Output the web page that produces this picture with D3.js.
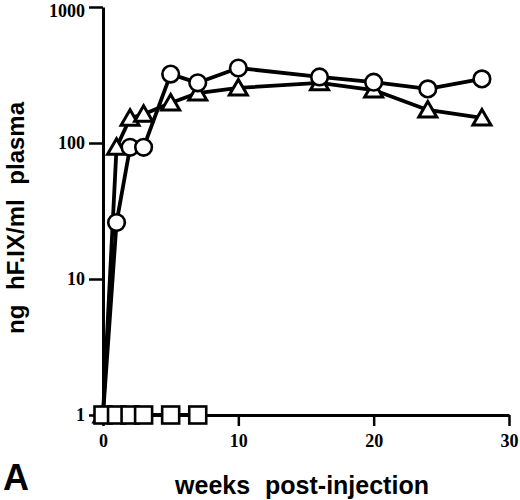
<!DOCTYPE html>
<html>
<head>
<meta charset="utf-8">
<script src="https://cdn.jsdelivr.net/npm/d3@7"></script>
<style>
  body { margin: 0; background: #fff; }
  svg { display: block; }
</style>
</head>
<body>
<script>
//============================================================
// Data (ng hF.IX/ml plasma vs weeks)
var circleWeeks = [0, 1, 2, 3, 5, 7, 10, 16, 20, 24, 28];
var circleVals  = [1, 26, 93, 93, 321, 277, 356, 306, 280, 250, 296];

var triWeeks = [0, 1, 2, 3, 5, 7, 10, 16, 20, 24, 28];
var triVals  = [1, 93, 152, 163, 197, 233, 254, 277, 245, 175, 153];

var squareWeeks = [0, 1, 2, 3, 5, 7];
var squareVals  = [1, 1, 1, 1, 1, 1];

var xTicks = [0, 10, 20, 30];
var yTicks = [1, 10, 100, 1000];

//============================================================
// Set up SVG
var svg = d3.select("body")
  .append("svg")
  .attr("width", 520)
  .attr("height", 500);

var x = d3.scaleLinear().domain([0, 30]).range([103, 509]);
var y = d3.scaleLog().domain([1, 1000]).range([415, 7]);

function pts(ws, vs) {
  return ws.map(function (w, i) { return [w, vs[i]]; });
}

//============================================================
// Axes
var yAxis = svg.append("g")
  .attr("transform", "translate(103,0)")
  .call(d3.axisLeft(y).tickValues(yTicks).tickFormat(d3.format("d"))
    .tickSize(14).tickSizeOuter(0).tickPadding(4));

var xAxis = svg.append("g")
  .attr("transform", "translate(0,415)")
  .call(d3.axisBottom(x).tickValues(xTicks).tickFormat(d3.format("d"))
    .tickSize(11).tickSizeOuter(0).tickPadding(8));

[xAxis, yAxis].forEach(function (g) {
  g.select(".domain").attr("stroke", "#000").attr("stroke-width", 3);
  g.selectAll(".tick line").attr("stroke", "#000").attr("stroke-width", 2.5);
  g.selectAll(".tick text")
    .attr("fill", "#000")
    .style("font-family", "'Liberation Serif', 'Times New Roman', serif")
    .style("font-weight", "bold")
    .style("font-size", "18px");
});
// keep the top label inside the picture
yAxis.selectAll(".tick text").filter(function (d) { return d === 1000; })
  .attr("dy", "0.5em");

//============================================================
// Lines
var line = d3.line()
  .x(function (d) { return x(d[0]); })
  .y(function (d) { return y(d[1]); });

[pts(triWeeks, triVals), pts(circleWeeks, circleVals), pts(squareWeeks, squareVals)]
  .forEach(function (data) {
    svg.append("path")
      .datum(data)
      .attr("d", line)
      .attr("fill", "none")
      .attr("stroke", "#000")
      .attr("stroke-width", 3.8)
      .attr("stroke-linejoin", "round");
  });

//============================================================
// Markers: triangles, then circles on top, then squares
svg.selectAll(".tri")
  .data(pts(triWeeks, triVals))
  .enter()
  .append("path")
  .attr("class", "tri")
  .attr("d", function (d) {
    var cx = x(d[0]), cy = y(d[1]);
    return "M" + cx + "," + (cy - 8.5) + "L" + (cx + 9) + "," + (cy + 7) +
      "L" + (cx - 9) + "," + (cy + 7) + "Z";
  })
  .attr("fill", "#fff")
  .attr("stroke", "#000")
  .attr("stroke-width", 3)
  .attr("stroke-linejoin", "miter");

svg.selectAll(".circ")
  .data(pts(circleWeeks, circleVals))
  .enter()
  .append("circle")
  .attr("class", "circ")
  .attr("cx", function (d) { return x(d[0]); })
  .attr("cy", function (d) { return y(d[1]); })
  .attr("r", 8.3)
  .attr("fill", "#fff")
  .attr("stroke", "#000")
  .attr("stroke-width", 2.6);

svg.selectAll(".sq")
  .data(pts(squareWeeks, squareVals))
  .enter()
  .append("rect")
  .attr("class", "sq")
  .attr("x", function (d) { return x(d[0]) - 8.5; })
  .attr("y", function (d) { return y(d[1]) - 8.5; })
  .attr("width", 17)
  .attr("height", 17)
  .attr("fill", "#fff")
  .attr("stroke", "#000")
  .attr("stroke-width", 2.6);

//============================================================
// Labels
var sans = "'Liberation Sans', Arial, Helvetica, sans-serif";

svg.append("text")
  .attr("x", 302)
  .attr("y", 494)
  .attr("text-anchor", "middle")
  .style("font-family", sans)
  .style("font-weight", "bold")
  .style("font-size", "25px")
  .style("word-spacing", "8px")
  .text("weeks post-injection");

svg.append("text")
  .attr("transform", "translate(24,218) rotate(-90)")
  .attr("text-anchor", "middle")
  .style("font-family", sans)
  .style("font-weight", "bold")
  .style("font-size", "24px")
  .style("word-spacing", "8px")
  .text("ng hF.IX/ml plasma");

svg.append("text")
  .attr("x", 3)
  .attr("y", 490)
  .style("font-family", sans)
  .style("font-weight", "bold")
  .style("font-size", "36px")
  .text("A");
</script>
</body>
</html>
